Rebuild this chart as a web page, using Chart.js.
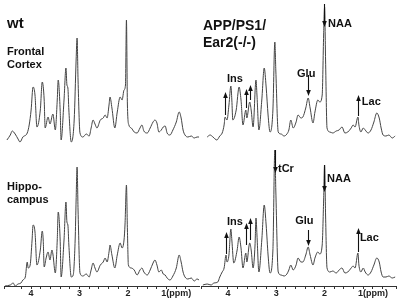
<!DOCTYPE html>
<html>
<head>
<meta charset="utf-8">
<script src="https://cdn.jsdelivr.net/npm/chart.js@4"></script>
<style>
  body { margin: 0; background: #fff; }
  #fig { position: relative; width: 400px; height: 300px; overflow: hidden; background: #fff; }
  #fig canvas { position: absolute; }
  .t { position: absolute; font-family: "Liberation Sans", Arial, sans-serif; font-weight: bold; color: #111; white-space: nowrap; }
</style>
</head>
<body>
<div id="fig">
  <canvas id="tl" width="200" height="145" style="left:0;top:0"></canvas>
  <canvas id="tr" width="200" height="145" style="left:200px;top:0"></canvas>
  <canvas id="bl" width="200" height="153" style="left:0;top:145px"></canvas>
  <canvas id="br" width="200" height="153" style="left:200px;top:145px"></canvas>
  <div class="t" style="left:7px;top:15px;font-size:15px;line-height:15px">wt</div>
  <div class="t" style="left:7px;top:44.7px;font-size:11px;line-height:13px">Frontal<br>Cortex</div>
  <div class="t" style="left:7px;top:180.4px;font-size:11px;line-height:12.5px">Hippo-<br>campus</div>
  <div class="t" style="left:203px;top:16.6px;font-size:14px;line-height:17px">APP/PS1/<br>Ear2(-/-)</div>
</div>
<script>
// wt, frontal cortex (ppm / intensity)
var ppmTL = [4.50,4.43,4.39,4.33,4.27,4.23,4.17,4.08,4.04,4.00,3.96,3.92,3.88,3.81,3.77,3.73,3.71,3.65,3.61,3.55,3.50,3.46,3.44,3.40,3.38,3.32,3.28,3.26,3.24,3.22,3.17,3.11,3.07,3.05,3.03,2.99,2.93,2.86,2.80,2.76,2.72,2.68,2.64,2.57,2.51,2.47,2.43,2.39,2.37,2.33,2.27,2.22,2.16,2.12,2.08,2.05,2.03,2.01,1.98,1.93,1.87,1.81,1.75,1.71,1.67,1.60,1.54,1.48,1.44,1.40,1.36,1.31,1.27,1.23,1.19,1.13,1.07,1.00,0.94,0.90,0.86,0.82,0.76,0.69,0.63,0.57,0.53];
var intTL = [5,10,14,11,6,3,8,12,20,35,58,50,18,35,63,45,17,28,21,31,15,45,65,35,5,45,77,60,57,35,3,25,85,107,65,12,8,11,9,17,25,21,17,25,27,30,27,40,48,37,17,33,48,45,55,60,125,40,20,17,13,12,17,20,14,12,17,23,25,22,13,15,18,19,12,10,15,23,33,27,15,10,8,9,7,8,8];

// APP/PS1/Ear2(-/-), frontal cortex
var ppmTR = [4.43,4.37,4.31,4.23,4.17,4.12,4.08,4.06,4.02,3.98,3.94,3.92,3.90,3.83,3.77,3.73,3.69,3.63,3.61,3.55,3.52,3.48,3.42,3.40,3.36,3.30,3.25,3.21,3.17,3.13,3.07,3.03,3.01,2.96,2.90,2.84,2.78,2.74,2.70,2.65,2.59,2.55,2.49,2.45,2.39,2.34,2.30,2.24,2.20,2.14,2.10,2.05,2.02,2.00,1.98,1.95,1.89,1.83,1.76,1.70,1.64,1.58,1.52,1.45,1.41,1.37,1.31,1.29,1.25,1.20,1.16,1.10,1.04,0.98,0.92,0.87,0.83,0.79,0.73,0.67,0.60,0.54];
var intTR = [8,10,8,5,9,12,20,28,25,40,59,45,25,35,58,45,20,35,27,43,35,18,65,50,15,45,77,58,30,13,35,103,75,13,11,9,11,15,25,17,23,30,27,28,37,47,37,22,33,45,43,50,110,138,85,17,13,12,14,15,18,12,13,17,20,18,28,20,13,17,15,12,15,23,32,27,17,10,9,10,7,9];

// wt, hippocampus
var ppmBL = [4.54,4.43,4.37,4.33,4.27,4.21,4.17,4.12,4.08,4.06,4.02,3.98,3.96,3.92,3.88,3.81,3.77,3.75,3.73,3.69,3.65,3.61,3.57,3.55,3.50,3.46,3.44,3.40,3.38,3.32,3.28,3.26,3.24,3.22,3.17,3.13,3.09,3.07,3.05,3.03,2.99,2.93,2.86,2.80,2.76,2.72,2.68,2.64,2.57,2.51,2.47,2.43,2.39,2.37,2.33,2.27,2.22,2.16,2.12,2.08,2.06,2.03,2.01,1.99,1.93,1.87,1.81,1.75,1.71,1.67,1.60,1.54,1.48,1.44,1.40,1.36,1.31,1.27,1.23,1.19,1.13,1.07,1.00,0.94,0.90,0.86,0.82,0.76,0.69,0.63,0.57,0.53];
var intBL = [0,1,3,0,2,3,6,9,24,18,21,46,61,54,21,36,55,46,19,28,34,26,36,32,13,46,74,46,9,46,84,64,61,41,9,11,46,86,119,76,13,10,12,9,16,23,18,14,21,24,28,24,34,41,31,18,31,43,38,46,61,101,56,21,18,16,11,16,18,14,11,16,23,26,21,14,16,12,11,8,6,10,18,31,24,14,9,7,8,5,7,6];

// APP/PS1/Ear2(-/-), hippocampus
var ppmBR = [4.52,4.43,4.35,4.29,4.21,4.17,4.12,4.08,4.04,4.02,3.98,3.94,3.92,3.88,3.81,3.77,3.73,3.69,3.63,3.61,3.55,3.52,3.48,3.44,3.42,3.40,3.36,3.30,3.25,3.21,3.17,3.13,3.07,3.03,3.01,2.96,2.90,2.84,2.78,2.74,2.70,2.65,2.59,2.55,2.49,2.45,2.39,2.34,2.30,2.24,2.20,2.14,2.10,2.05,2.02,2.00,1.98,1.95,1.89,1.83,1.76,1.70,1.64,1.58,1.52,1.45,1.41,1.37,1.31,1.29,1.25,1.20,1.16,1.10,1.04,0.98,0.92,0.87,0.83,0.79,0.73,0.67,0.60,0.54];
var intBR = [1,2,1,3,4,9,14,18,31,24,31,57,46,23,36,49,38,18,33,24,43,36,18,41,68,51,14,46,81,61,31,13,36,136,96,14,11,10,12,16,21,16,21,28,24,24,31,39,31,21,28,34,32,41,86,121,71,18,14,15,13,16,18,13,14,18,20,18,33,21,14,18,14,11,14,21,28,24,14,9,9,10,8,9];

// arrows: [ppm, from, to] ; labels: [text, ppm, intensity]
var arrowsTR = [[4.06,30,53],[3.63,37,56],[3.55,45,60],[2.34,70,49],[2.01,141,118],[1.31,29,50]];
var labelsTR = [["Ins",4.02,63],["Glu",2.57,68],["NAA",1.93,118],["Lac",1.23,40]];
var arrowsBR = [[4.05,32,54],[3.63,41,63],[3.55,46,68],[3.03,136,113],[2.34,56,40],[2.01,121,94],[1.31,34,58]];
var labelsBR = [["tCr",2.965,114],["NAA",1.95,104],["Ins",4.02,61],["Glu",2.61,62],["Lac",1.27,45]];

var xTicks = [4, 3, 2, 1];

function marks(arrows, labels) {
    return {
        id: 'marks',
        afterDatasetsDraw: function(chart) {
            var ctx = chart.ctx, x = chart.scales.x, y = chart.scales.y;
            ctx.save();
            ctx.strokeStyle = '#111';
            ctx.fillStyle = '#111';
            ctx.lineWidth = 1.1;
            arrows.forEach(function(a) {
                var px = Math.round(x.getPixelForValue(a[0])) + 0.5;
                var y0 = y.getPixelForValue(a[1]);
                var y1 = y.getPixelForValue(a[2]);
                var d = y1 < y0 ? -1 : 1;
                ctx.beginPath();
                ctx.moveTo(px, y0);
                ctx.lineTo(px, y1 - d * 5);
                ctx.stroke();
                ctx.beginPath();
                ctx.moveTo(px, y1);
                ctx.lineTo(px - 2.3, y1 - d * 6);
                ctx.lineTo(px + 2.3, y1 - d * 6);
                ctx.closePath();
                ctx.fill();
            });
            ctx.font = 'bold 11px "Liberation Sans", Arial, sans-serif';
            ctx.textAlign = 'left';
            ctx.textBaseline = 'alphabetic';
            labels.forEach(function(l) {
                ctx.fillText(l[0], x.getPixelForValue(l[1]), y.getPixelForValue(l[2]));
            });
            ctx.restore();
        }
    };
}

function buildSpectrum(id, ppm, ints, withAxis, pad, yMax, arrows, labels) {
    var pts = ppm.map(function(p, i) { return {x: p, y: ints[i]}; });
    return new Chart(document.getElementById(id), {
        type: 'line',
        data: {
            datasets: [{
                data: pts,
                borderColor: '#444',
                borderWidth: 1,
                pointRadius: 0,
                cubicInterpolationMode: 'monotone',
                fill: false
            }]
        },
        options: {
            responsive: false,
            animation: false,
            devicePixelRatio: 1,
            layout: { padding: pad },
            plugins: { legend: { display: false }, tooltip: { enabled: false } },
            scales: {
                x: {
                    type: 'linear',
                    reverse: true,
                    min: 0.51,
                    max: 4.55,
                    display: withAxis,
                    border: { color: '#333', width: 1 },
                    grid: { drawOnChartArea: false, drawTicks: true, tickLength: 3, color: '#333' },
                    ticks: {
                        stepSize: 0.2,
                        autoSkip: false,
                        maxRotation: 0,
                        padding: 0,
                        color: '#222',
                        font: { family: '"Liberation Sans", Arial, sans-serif', size: 9, weight: 'bold', lineHeight: 1 },
                        callback: function(v) {
                            var r = Math.round(v);
                            if (Math.abs(v - r) > 1e-6 || xTicks.indexOf(r) < 0) return '';
                            return r == 1 ? '1(ppm)' : String(r);
                        }
                    }
                },
                y: { display: false, min: 0, max: yMax }
            }
        },
        plugins: [marks(arrows || [], labels || [])]
    });
}

buildSpectrum('tl', ppmTL, intTL, false, {left: 4.5, right: 0, top: 0, bottom: 0}, 145);
buildSpectrum('tr', ppmTR, intTR, false, {left: 1.4, right: 3.4, top: 0, bottom: 0}, 145, arrowsTR, labelsTR);
buildSpectrum('bl', ppmBL, intBL, true, {left: 4.5, right: 0, top: 0, bottom: 0}, 141);
buildSpectrum('br', ppmBR, intBR, true, {left: 1.4, right: 3.4, top: 0, bottom: 0}, 141, arrowsBR, labelsBR);
</script>
</body>
</html>
